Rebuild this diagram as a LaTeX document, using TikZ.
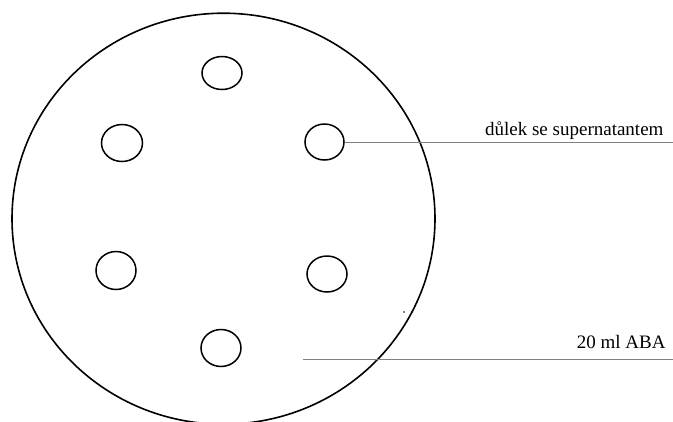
\documentclass[tikz,border=0pt]{standalone}
\usepackage{fontspec}
\setmainfont{Liberation Serif}
\usetikzlibrary{shapes.geometric}
\definecolor{lineGrey}{RGB}{128,128,128}

\begin{document}
\begin{tikzpicture}[
  x=1pt, y=-1pt,
  plate/.style={ellipse, draw, line width=1.6pt, inner sep=0pt,
    minimum width=423pt, minimum height=411pt},
  well/.style={ellipse, draw, line width=1.5pt, inner sep=0pt,
    minimum width=40pt, minimum height=36pt},
  noteText/.style={anchor=base east, font=\fontsize{19}{22}\selectfont},
  leader/.style={lineGrey, line width=0.9pt},
]
\useasboundingbox (0,0) rectangle (673,421);

% --- Petri dish with ABA ------------------------------------------
\node[plate] (dish) at (223.5,218.7) {};

% six wells
\node[well, minimum height=33pt] (wellTop) at (222,73) {};
\node[well, minimum width=41pt, minimum height=37pt] (wellUL) at (122,143) {};
\node[well, minimum width=39pt] (wellUR) at (324.5,142) {};
\node[well, minimum height=38pt] (wellLL) at (116,270.5) {};
\node[well] (wellLR) at (327,274) {};
\node[well, minimum height=37pt] (wellBot) at (221,348) {};

\fill (404,312) circle (0.8pt);

% --- Labels ---------------------------------------------------------
\node[noteText] (supLabel) at (667,135) {důlek se supernatantem};
\coordinate (supEnd) at (673,144);
\draw[leader] (wellUR.east) -- (supEnd |- wellUR.east);

\node[noteText] (abaLabel) at (669,348) {20 ml ABA};
\coordinate (abaStart) at (303,359);
\coordinate (abaEnd) at (673,359);
\draw[leader] (abaStart) -- (abaEnd);
\end{tikzpicture}
\end{document}
